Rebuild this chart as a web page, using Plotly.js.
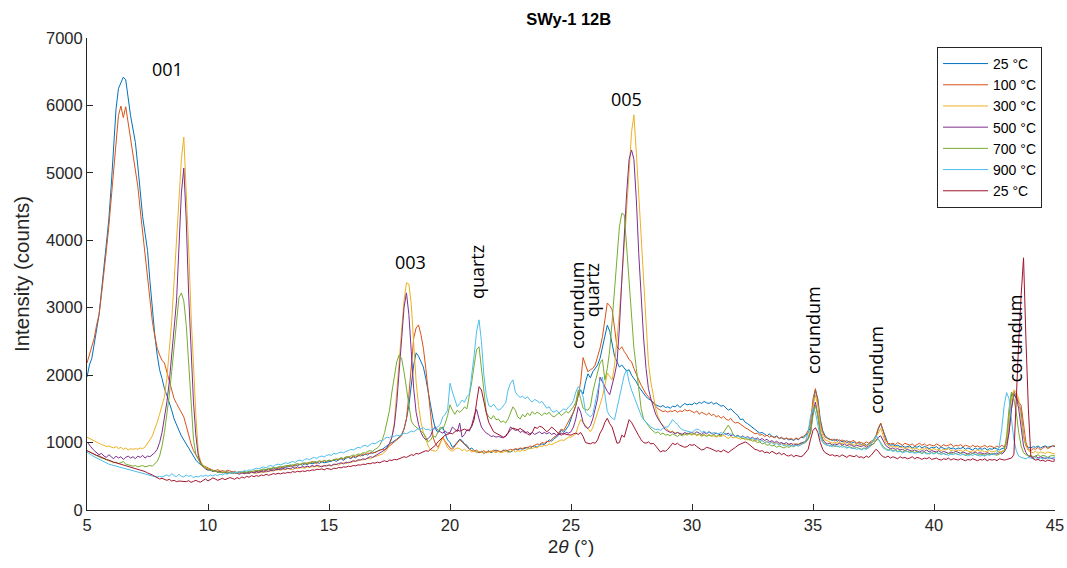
<!DOCTYPE html>
<html>
<head>
<meta charset="utf-8">
<script src="https://cdn.plot.ly/plotly-3.0.1.min.js"></script>
<style>html,body{margin:0;padding:0;background:#fff;}#chart{width:1067px;height:568px;}</style>
</head>
<body>
<div id="chart"></div>
<script>
// 2-theta sampling: 5.0 to 45.0 deg, 0.1 deg step (401 samples per pattern)
const startDeg = 5, stepDeg = 0.1, nSamples = 401;
const twoTheta = Array.from({length: nSamples}, (_, i) => +(startDeg + i * stepDeg).toFixed(1));

const seriesNames = ["25 °C", "100 °C", "300 °C", "500 °C", "700 °C", "900 °C", "25 °C"];

const s25 = [
1970,2150,2250,2450,2700,2900,3250,3600,3950,4300,
4800,5350,5950,6250,6350,6420,6380,6100,5850,5650,
5450,5100,4700,4350,4100,3850,3400,2950,2600,2300,
2080,1950,1800,1700,1600,1480,1350,1250,1180,1100,
1040,980,920,860,790,740,700,670,640,620,
600,590,575,580,565,570,560,575,560,555,
570,545,560,550,565,555,540,560,570,555,
575,585,570,595,590,610,600,620,605,630,
615,640,630,650,660,645,670,655,680,665,
690,670,700,685,695,710,690,715,700,705,
710,725,740,720,745,760,735,770,780,760,
790,775,800,820,805,830,815,850,840,860,
870,890,900,930,950,980,1000,1020,1050,1080,
1120,1200,1350,1550,1850,2150,2330,2280,2200,2120,
1950,1740,1560,1350,1200,1150,1200,1230,1130,1040,
1000,930,960,1010,1050,1030,980,960,900,920,
880,860,850,870,840,860,880,850,870,890,
870,860,880,890,870,860,880,900,890,910,
900,920,930,910,940,950,930,960,980,970,
1000,1040,1020,1060,1080,1120,1190,1150,1200,1250,
1350,1440,1550,1700,1780,1720,1900,2020,1960,2050,
2100,2150,2250,2400,2550,2740,2650,2450,2280,2200,
2120,2150,2100,2060,2080,2000,1950,1900,1830,1780,
1720,1680,1650,1630,1600,1560,1540,1530,1550,1520,
1530,1510,1540,1530,1560,1520,1550,1580,1560,1570,
1560,1590,1570,1600,1580,1610,1590,1580,1600,1570,
1590,1560,1540,1550,1520,1480,1500,1460,1430,1400,
1340,1350,1300,1280,1250,1220,1200,1160,1140,1150,
1120,1100,1130,1090,1080,1100,1060,1070,1050,1060,
1040,1050,1030,1060,1040,1080,1070,1100,1150,1230,
1550,1780,1650,1350,1180,1100,1070,1050,1030,1050,
1020,1040,1010,1030,1000,1020,990,1010,980,1000,
970,990,960,980,1000,1020,1080,1200,1280,1180,
1050,980,960,970,950,960,940,950,930,940,
950,920,940,930,950,920,940,930,910,930,
920,940,910,930,920,900,930,910,920,900,
920,910,930,900,920,910,890,920,900,910,
900,920,890,910,900,920,900,890,910,920,
1000,1350,1720,1730,1650,1600,1450,1100,950,930,
920,940,930,950,920,940,950,930,940,950,
940];

const s100 = [
2180,2300,2400,2550,2750,2900,3200,3500,3850,4200,
4600,5050,5500,5850,5990,5820,5980,5750,5500,5300,
5100,4800,4450,4100,3800,3450,3100,2800,2580,2400,
2300,2220,2180,2050,1900,1750,1650,1580,1520,1450,
1380,1250,1100,980,880,820,750,700,660,640,
620,600,590,580,600,575,585,570,590,580,
560,575,555,570,550,565,560,545,570,560,
580,565,590,575,600,590,615,600,625,610,
630,620,645,660,640,665,650,680,670,690,
680,700,690,720,700,690,725,710,730,715,
740,725,745,760,740,770,755,780,790,770,
800,785,810,800,830,820,845,835,860,850,
870,880,900,890,920,950,970,1000,1030,1060,
1100,1200,1350,1700,2150,2550,2700,2745,2600,2400,
2100,1750,1400,1080,980,930,1000,1080,1020,960,
920,900,950,1000,1040,1010,970,930,900,880,
870,890,850,860,880,850,870,860,890,870,
880,860,890,870,880,900,890,910,900,920,
910,930,920,950,940,960,980,970,1000,990,
1020,1010,1050,1080,1100,1150,1200,1180,1250,1300,
1380,1450,1550,1700,1900,2260,2150,2050,2080,2100,
2150,2270,2400,2570,2850,3070,3030,2970,2700,2420,
2380,2420,2350,2300,2230,2200,2100,2000,1930,1850,
1780,1720,1680,1630,1580,1540,1500,1480,1460,1470,
1450,1470,1460,1480,1450,1470,1460,1490,1470,1480,
1460,1440,1470,1420,1450,1430,1410,1440,1400,1420,
1380,1400,1360,1390,1350,1330,1360,1310,1290,1300,
1270,1240,1220,1200,1180,1150,1130,1140,1110,1120,
1090,1110,1080,1100,1070,1090,1060,1080,1050,1070,
1050,1060,1040,1070,1050,1080,1090,1120,1180,1300,
1650,1800,1600,1300,1150,1080,1060,1040,1050,1030,
1050,1020,1040,1010,1030,1000,1020,1030,990,1010,
1000,980,1010,990,1020,1040,1100,1220,1290,1170,
1040,990,980,990,970,1000,980,960,990,970,
960,980,950,970,990,960,980,950,970,960,
950,980,960,940,970,950,960,980,940,960,
950,970,940,960,950,930,960,940,950,930,
940,960,930,950,940,920,950,930,960,940,
980,1150,1500,1760,1700,1600,1550,1300,1000,900,
880,910,900,930,890,920,940,910,930,950,
950];

const s300 = [
1080,1060,1040,1020,1000,990,970,960,940,950,
930,920,940,910,930,900,920,890,910,900,
910,900,920,910,935,980,1040,1100,1190,1300,
1420,1560,1680,1950,2350,2800,3400,4000,4650,5200,
5530,4800,3900,2900,2050,1400,850,720,660,630,
610,600,590,575,580,565,560,575,555,560,
550,545,560,540,555,535,550,545,560,550,
540,560,555,570,560,580,575,590,585,600,
590,605,600,615,610,600,620,615,630,625,
620,640,630,645,640,650,635,655,650,665,
660,650,670,680,665,690,700,685,710,700,
720,735,725,750,740,760,770,755,780,790,
800,815,830,860,900,960,1080,1300,1700,2200,
2670,3100,3370,3350,3050,2500,1900,1550,1300,1150,
1050,950,890,880,870,900,1000,1080,1000,920,
890,870,900,920,910,880,900,870,890,860,
880,850,870,860,840,870,850,880,860,850,
870,850,860,880,850,870,890,860,880,870,
890,880,900,920,910,930,920,950,940,960,
950,980,970,990,1000,1020,1040,1030,1060,1080,
1080,1100,1130,1250,1340,1300,1250,1200,1160,1220,
1350,1450,1560,1680,1850,2030,1980,1930,2150,2500,
2920,3400,3900,4400,5000,5600,5860,5300,4700,4000,
3410,2750,2180,1900,1680,1500,1380,1300,1250,1220,
1190,1160,1170,1140,1150,1120,1130,1110,1140,1120,
1110,1130,1100,1120,1090,1110,1100,1120,1090,1100,
1080,1100,1090,1110,1080,1060,1090,1070,1080,1060,
1050,1070,1040,1060,1030,1050,1020,1040,1010,1030,
1000,1020,990,1010,980,1000,970,990,980,960,
980,960,990,970,980,1000,990,1030,1080,1200,
1550,1700,1550,1250,1100,1040,1020,1000,990,1010,
990,1000,980,1010,970,990,980,960,990,970,
960,980,950,970,990,1010,1080,1150,1210,1100,
1000,960,940,950,930,940,920,930,910,920,
930,900,920,910,890,910,900,920,890,900,
910,890,900,880,900,890,910,880,890,870,
890,880,870,890,880,860,880,870,890,870,
880,860,870,880,860,870,880,860,870,880,
1000,1300,1650,1780,1750,1650,1400,1100,950,880,
860,850,870,840,860,850,840,860,850,840,
830];

const s500 = [
1010,960,920,880,850,820,840,800,780,820,
790,760,800,770,790,750,780,800,770,790,
760,800,780,810,770,800,790,820,850,900,
1000,1150,1350,1600,1900,2250,2700,3100,3900,4700,
5070,4300,3200,2300,1600,1100,800,690,640,610,
590,600,570,580,560,570,550,560,545,555,
540,555,545,530,550,540,555,545,560,550,
565,555,575,560,580,570,590,580,600,595,
600,615,605,620,610,630,620,640,625,645,
635,650,640,660,645,665,650,640,660,650,
670,660,680,675,690,700,685,710,700,720,
730,720,745,740,760,750,775,790,780,800,
820,840,860,890,930,990,1080,1250,1590,2050,
2500,3000,3220,2900,2350,1800,1450,1270,1150,1080,
1040,1060,1100,1200,1230,1180,1160,1140,1170,1140,
1150,1230,1200,1160,1290,1080,1120,1190,1170,1260,
1400,1490,1350,1230,1180,1140,1120,1090,1100,1080,
1090,1080,1070,1100,1150,1230,1200,1180,1190,1150,
1170,1140,1160,1130,1150,1120,1140,1160,1130,1150,
1130,1150,1120,1140,1110,1130,1140,1120,1150,1140,
1160,1230,1350,1530,1450,1300,1230,1210,1250,1350,
1500,1650,1970,1900,1820,1760,1710,1850,2000,2180,
2700,3410,4100,4700,5200,5340,5200,4600,3800,3100,
2550,2100,1800,1650,1530,1420,1350,1290,1230,1190,
1170,1150,1160,1130,1150,1140,1120,1150,1130,1140,
1150,1130,1160,1140,1120,1150,1130,1160,1140,1120,
1140,1130,1110,1150,1120,1140,1100,1120,1090,1110,
1080,1100,1070,1090,1060,1080,1050,1070,1040,1060,
1030,1050,1010,1030,1000,1020,990,1000,980,1000,
970,990,960,980,970,990,1000,1020,1060,1150,
1450,1600,1400,1150,1050,1000,980,990,960,980,
970,990,960,980,950,970,960,940,960,950,
940,960,930,950,960,980,1030,1080,1100,1030,
960,930,910,920,900,910,890,900,880,900,
890,870,890,880,860,880,870,890,860,880,
870,860,880,850,870,860,840,860,850,870,
850,840,860,850,830,850,840,860,840,850,
840,830,850,840,820,840,830,850,830,860,
920,1150,1500,1700,1680,1500,1200,950,850,800,
790,780,800,770,790,780,760,780,770,760,
750];

const s700 = [
880,860,840,820,800,790,770,760,740,730,
720,700,710,690,700,720,680,670,660,650,
660,640,650,660,640,650,660,650,680,720,
800,950,1150,1400,1700,2050,2450,2850,3150,3220,
3100,2750,2200,1500,1050,820,740,680,640,620,
600,590,580,570,565,555,560,550,545,555,
545,560,550,565,555,570,560,575,565,580,
590,585,600,610,600,620,615,630,625,640,
650,640,660,655,670,665,680,690,675,695,
700,690,710,705,720,710,730,720,735,725,
740,730,750,745,760,775,765,790,785,800,
815,810,830,825,850,845,870,880,870,900,
920,960,1040,1150,1300,1480,1750,2000,2200,2300,
2250,2050,1800,1550,1320,1260,1230,1210,1180,1140,
1080,1010,1040,1100,1080,1150,1230,1200,1280,1400,
1560,1480,1420,1480,1450,1480,1530,1500,1680,1900,
2150,2380,2420,2100,1750,1450,1380,1350,1400,1340,
1350,1300,1320,1290,1350,1450,1530,1480,1380,1350,
1420,1380,1440,1400,1460,1420,1450,1430,1400,1440,
1420,1450,1400,1380,1410,1440,1400,1430,1460,1440,
1480,1530,1600,1780,1650,1510,1490,1480,1530,1750,
1900,2050,2180,2230,1930,2100,2370,2800,3300,3800,
4200,4400,4380,3900,3400,2900,2400,2100,1750,1500,
1350,1290,1250,1200,1170,1140,1160,1120,1140,1110,
1120,1100,1130,1110,1090,1120,1100,1130,1110,1140,
1120,1140,1110,1130,1100,1120,1090,1110,1100,1120,
1090,1110,1100,1150,1210,1260,1200,1120,1090,1100,
1080,1060,1070,1040,1050,1020,1030,1000,1010,980,
990,960,970,950,960,930,950,940,920,940,
930,950,940,960,950,970,980,1000,1050,1150,
1400,1550,1400,1150,1020,980,960,950,970,940,
950,930,960,940,920,940,930,910,930,920,
900,920,910,930,950,980,1030,1050,1000,940,
910,890,900,880,890,870,880,860,880,870,
860,880,850,870,860,840,860,850,830,850,
840,860,830,850,840,820,840,830,850,830,
820,840,830,810,830,820,840,820,810,830,
820,810,830,820,840,820,810,830,850,880,
1100,1500,1750,1650,1450,1150,950,850,820,800,
810,790,800,820,790,810,800,780,800,810,
800];

const s900 = [
860,830,810,790,770,750,730,720,700,680,
670,660,650,640,630,620,610,600,590,580,
570,560,545,540,530,520,510,500,495,490,
500,490,510,520,500,540,510,495,530,500,
490,520,500,510,480,500,490,510,500,515,
500,520,505,525,510,530,520,540,530,550,
545,560,550,570,565,585,575,595,590,610,
620,610,630,640,625,650,660,645,670,680,
670,690,700,690,710,720,705,730,740,725,
750,760,745,770,780,765,790,800,785,810,
820,810,840,830,850,860,845,870,880,900,
890,910,930,920,950,960,940,970,990,980,
1000,1030,1020,1060,1080,1070,1100,1090,1110,1100,
1120,1140,1130,1150,1170,1160,1190,1210,1200,1220,
1190,1200,1180,1210,1200,1230,1270,1380,1420,1480,
1880,1750,1630,1530,1580,1630,1600,1680,1720,2000,
2300,2650,2820,2500,2000,1700,1550,1530,1570,1520,
1480,1500,1550,1590,1780,1880,1930,1750,1700,1670,
1690,1650,1680,1630,1600,1640,1620,1590,1610,1560,
1510,1530,1470,1450,1480,1440,1470,1500,1480,1530,
1560,1620,1750,1830,1780,1680,1450,1410,1380,1420,
1600,1800,1930,1970,1680,1460,1400,1360,1340,1500,
1680,1850,2000,2080,1900,1780,1680,1590,1500,1400,
1340,1300,1260,1230,1210,1190,1200,1180,1210,1230,
1230,1280,1340,1300,1270,1220,1190,1180,1170,1160,
1150,1180,1200,1190,1150,1170,1140,1160,1130,1150,
1140,1130,1150,1120,1140,1100,1130,1110,1090,1100,
1080,1090,1070,1080,1050,1070,1040,1050,1020,1030,
1000,1010,990,1000,970,990,960,980,950,970,
950,960,940,960,950,970,990,1030,1150,1400,
1500,1450,1250,1080,1000,970,960,950,940,960,
940,950,930,940,920,930,910,920,900,910,
890,910,900,920,980,1060,1110,1050,980,920,
900,880,890,870,880,860,870,850,860,870,
850,860,840,850,860,840,850,830,840,850,
830,850,840,820,840,830,810,830,820,840,
820,810,830,820,800,820,810,830,810,800,
810,800,820,810,830,820,850,950,1200,1550,
1740,1650,1350,1050,880,800,780,770,760,780,
770,760,780,750,770,760,780,770,760,780,
780];

const s25b = [
880,860,850,830,810,800,780,770,750,740,
720,710,700,690,680,670,660,650,640,630,
620,600,590,580,570,550,540,520,500,480,
460,470,450,440,455,430,440,420,430,425,
415,420,435,410,425,440,420,415,440,460,
430,450,475,460,440,455,470,450,460,480,
470,455,480,465,490,475,500,485,510,495,
510,500,520,510,530,515,525,540,530,545,
535,550,545,560,550,570,560,575,565,580,
570,585,580,595,590,605,600,610,595,615,
610,600,620,615,630,625,640,635,650,645,
660,655,670,665,680,675,690,685,700,695,
710,700,720,730,715,740,735,750,745,760,
770,790,780,800,820,810,840,830,850,860,
880,870,900,930,960,1010,1040,1080,1110,1120,
1140,1130,1160,1190,1170,1190,1200,1180,1190,1240,
1340,1600,1830,1780,1600,1440,1300,1220,1160,1140,
1120,1100,1080,1090,1150,1190,1215,1200,1190,1210,
1190,1160,1130,1110,1150,1230,1210,1240,1230,1200,
1160,1190,1230,1200,1160,1130,1110,1140,1120,1110,
1110,1130,1140,1120,1150,1090,1000,990,980,1000,
990,1040,1140,1200,1300,1360,1280,1230,1100,990,
1000,1110,1080,1200,1340,1300,1230,1150,1100,1040,
1000,990,1010,980,990,950,900,860,880,870,
900,940,990,970,990,960,950,930,940,970,
960,970,940,910,890,900,930,920,910,890,
870,880,860,890,870,850,880,900,930,960,
980,1000,1010,990,960,930,900,890,870,880,
850,860,840,870,850,830,850,820,840,810,
800,820,790,810,800,790,810,850,900,1050,
1180,1220,1150,1000,900,850,830,810,820,800,
810,790,820,800,780,810,800,790,810,780,
790,770,800,780,810,850,900,870,820,790,
780,800,770,790,780,760,790,770,780,760,
770,790,760,780,770,750,770,760,780,750,
760,770,750,740,760,750,770,740,760,750,
740,760,750,730,750,740,760,740,730,750,
740,760,730,750,740,750,730,760,750,740,
750,760,770,820,1780,2480,3180,3740,2520,1500,
800,760,740,750,730,740,720,740,730,720,
730];

const seriesData = [s25, s100, s300, s500, s700, s900, s25b];
const seriesColors = ["#0072BD", "#D95319", "#EDB120", "#7E2F8E", "#77AC30", "#4DBEEE", "#A2142F"];

// peak labels: text, 2theta, intensity, rotation
const labelTexts = ["001", "003", "quartz", "005", "corundum", "quartz", "corundum", "corundum", "corundum"];
const labelX =     [8.31, 18.35, 21.12, 27.31, 25.25, 25.87, 35.0, 37.6, 43.35];
const labelY =     [6540, 3680, 3530, 6100, 3040, 3260, 2670, 2080, 2550];
const labelAngle = [0, 0, -90, 0, -90, -90, -90, -90, -90];

const axisColor = "#262626";

const traces = seriesData.map((vals, k) => ({
  x: twoTheta,
  y: vals,
  type: "scatter",
  mode: "lines",
  name: seriesNames[k],
  line: {color: seriesColors[k], width: 1}
}));

const annotations = labelTexts.map((t, k) => ({
  x: labelX[k], y: labelY[k], xref: "x", yref: "y",
  text: t, showarrow: false, textangle: labelAngle[k],
  xanchor: "center", yanchor: "middle",
  font: {family: "Open Sans, sans-serif", size: 18, color: "#000"}
}));

const layout = {
  width: 1067, height: 568,
  margin: {l: 87, r: 12, t: 38, b: 58},
  paper_bgcolor: "#fff", plot_bgcolor: "#fff",
  font: {family: "Liberation Sans, Arial, sans-serif", color: axisColor},
  title: {text: "<b>SWy-1 12B</b>", font: {size: 16.5, color: "#000", family: "Liberation Sans, Arial, sans-serif"}, x: 0.533, xanchor: "center", y: 0.966, yanchor: "middle"},
  xaxis: {
    range: [5, 45], tickvals: [5,10,15,20,25,30,35,40,45],
    ticks: "inside", ticklen: 6, tickcolor: axisColor, tickwidth: 1,
    showline: true, linecolor: axisColor, linewidth: 1, mirror: false,
    showgrid: false, zeroline: false,
    tickfont: {size: 16.5, color: axisColor},
    title: {text: "2<i>θ</i> (°)", font: {size: 19, color: axisColor}, standoff: 6}
  },
  yaxis: {
    range: [0, 7000], tickvals: [0,1000,2000,3000,4000,5000,6000,7000],
    ticks: "inside", ticklen: 6, tickcolor: axisColor, tickwidth: 1,
    showline: true, linecolor: axisColor, linewidth: 1, mirror: false,
    showgrid: false, zeroline: false,
    tickfont: {size: 16.5, color: axisColor},
    title: {text: "Intensity (counts)", font: {size: 20.5, color: axisColor}, standoff: 10}
  },
  legend: {
    x: 0.9866, xanchor: "right", y: 0.981, yanchor: "top",
    bgcolor: "#fff", bordercolor: axisColor, borderwidth: 1,
    font: {size: 14, color: "#000"}, tracegroupgap: 0, itemwidth: 45
  },
  annotations: annotations,
  showlegend: true
};

Plotly.newPlot("chart", traces, layout, {displayModeBar: false, staticPlot: true});
</script>
</body>
</html>
